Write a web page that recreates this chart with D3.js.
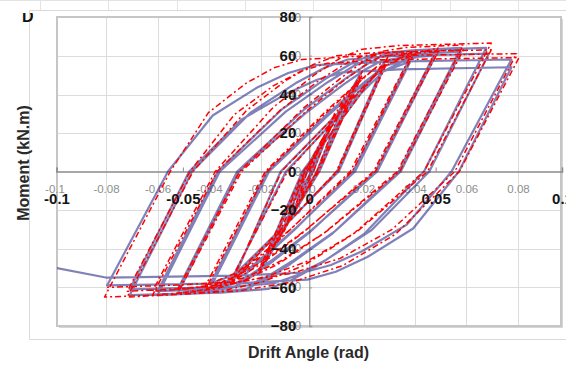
<!DOCTYPE html>
<html>
<head>
<meta charset="utf-8">
<script src="https://cdn.jsdelivr.net/npm/d3@7"></script>
<style>
  html, body { margin: 0; padding: 0; background: #fff; overflow: hidden; }
  svg { display: block; }
</style>
</head>
<body>
<svg id="chart" width="566" height="365"></svg>
<script>
// ---- Axis ticks ----
const xTicksMajor = [-0.1, -0.05, 0, 0.05, 0.1];
const xTicksMinor = [-0.1, -0.08, -0.06, -0.04, -0.02, 0, 0.02, 0.04, 0.06, 0.08];
const xGridTicks = [-0.08, -0.06, -0.04, -0.02, 0.02, 0.04, 0.06, 0.08];
const yTicks = [-80, -60, -40, -20, 0, 20, 40, 60, 80];

// ---- Test specimen (solid blue): loading history, [drift angle, moment] ----
const blueElastic = [[0,0],[0.005,15],[0.0008,0],[-0.005,-14],[-0.0008,0],[0.010,28],[0.0015,0],[-0.010,-29],
  [-0.0015,0],[0.015,39],[0.003,0],[-0.015,-39]];
const blueDrift2 = [[-0.002,0],[0.020,50],[0.0033,0],[-0.019,-51],[-0.002,0],[0.020,48],[0.004,0],[-0.019,-49]];
const blueDrift3 = [[-0.0027,0],[0.030,57],[0.011,0],[-0.030,-56],[-0.0113,0],[0.030,55],[0.0117,0],[-0.030,-54]];
const blueDrift4 = [[-0.0092,0],[0.0122,29.5],[0.0234,44.3],[0.0294,51.9],[0.040,59],
  [0.0173,0],[-0.0057,-30],[-0.0182,-45],[-0.0249,-52.8],[-0.039,-60],
  [-0.0159,0],[0.0070,28.5],[0.0194,42.8],[0.0261,50.2],[0.040,57],
  [0.0181,0],[-0.0051,-29],[-0.0176,-43.5],[-0.0245,-51],[-0.039,-58]];
const blueDrift5 = [[-0.0167,0],[0.0082,31],[0.0221,46.5],[0.0299,54.6],[0.050,62],
  [0.0262,0],[0.0001,-31.5],[-0.0152,-47.3],[-0.0240,-55.4],[-0.0298,-59.9],[-0.0378,-61.7],[-0.052,-63],
  [-0.0278,0],[-0.0017,30],[0.0135,45],[0.0222,52.8],[0.0281,57],[0.0359,58.8],[0.050,60],
  [0.0269,0],[0.0008,-30.5],[-0.0146,-45.8],[-0.0234,-53.7],[-0.0293,-58],[-0.0374,-59.8],[-0.052,-61]];
const blueDrift6 = [[-0.0285,0],[-0.0021,32],[0.0142,48],[0.0237,56.3],[0.0304,60.8],[0.0408,62.7],[0.060,64],
  [0.0354,0],[0.0093,-32],[-0.0076,-48],[-0.0176,-56.3],[-0.0249,-60.8],[-0.0371,-62.7],[-0.060,-64],
  [-0.0354,0],[-0.0093,31],[0.0076,46.5],[0.0176,54.6],[0.0249,58.9],[0.0371,60.8],[0.060,62],
  [0.0362,0],[0.0101,-31],[-0.0068,-46.5],[-0.0169,-54.6],[-0.0242,-58.9],[-0.0366,-60.8],[-0.060,-62]];
const blueDrift7 = [[-0.0362,0],[-0.0110,32],[0.0064,48],[0.0172,56.3],[0.0254,60.8],[0.0407,62.7],[0.070,64],
  [0.0454,0],[0.0220,-32],[0.0042,-48],[-0.0072,-56.3],[-0.0163,-60.8],[-0.0348,-62.7],[-0.071,-64],
  [-0.0464,0],[-0.0232,30.5],[-0.0053,45.8],[0.0061,53.7],[0.0152,58],[0.034,59.8],[0.071,61],
  [0.0475,0],[0.0245,-30.5],[0.0066,-45.8],[-0.0049,-53.7],[-0.0141,-58],[-0.0333,-59.8],[-0.071,-61]];
const blueDrift8 = [[-0.0475,0],[-0.0267,27],[-0.0087,40.5],[0.0031,47.5],[0.0132,51.3],[0.0356,52.9],[0.080,54],
  [0.0592,0],[0.0411,-29.5],[0.0230,-44.3],[0.0105,-51.9],[-0.0007,-56],[-0.0271,-57.8],[-0.080,-59],
  [-0.0559,0],[-0.0382,29],[-0.0206,43.5],[-0.0083,51],[0.0025,55.1],[0.0284,56.8],[0.080,58],
  [0.0563,0],[0.0386,-27.5],[0.0209,-41.3],[0.0086,-48.4],[-0.0023,-52.3],[-0.0282,-53.9],[-0.080,-55],
  [-0.100,-50]];

// ---- Analysis (red dash-dot): loading history, [drift angle, moment] ----
const redElastic = [[0,0],[0.005,16],[0.0008,0],[-0.005,-16],[-0.0008,0],[0.010,30],[0.0017,0],[-0.010,-31],
  [-0.0017,0],[0.015,41],[0.003,0],[-0.015,-41]];
const redDrift2 = [[-0.0009,0],[0.021,52],[0.0031,0],[-0.020,-53],[-0.0017,0],[0.021,50],[0.0038,0],[-0.020,-51]];
const redDrift3 = [[-0.0024,0],[0.031,59],[0.0107,0],[-0.031,-58],[-0.011,0],[0.031,57],[0.0113,0],[-0.031,-56]];
const redDrift4 = [[-0.0086,0],[0.0127,31],[0.0238,46.5],[0.0298,54.6],[0.041,62],
  [0.0162,0],[-0.0078,-30.5],[-0.0206,-45.8],[-0.0282,-53.7],[-0.041,-61],
  [-0.0166,0],[0.0064,30],[0.0187,45],[0.0254,52.8],[0.041,60],
  [0.017,0],[-0.0071,-29.5],[-0.0201,-44.3],[-0.0278,-51.9],[-0.041,-59]];
const redDrift5 = [[-0.0174,0],[0.0072,32],[0.0209,48],[0.0286,56.3],[0.051,64],
  [0.0254,0],[-0.0023,-31.5],[-0.0183,-47.3],[-0.0286,-55.4],[-0.0368,-59.9],[-0.0443,-61.7],[-0.052,-63],
  [-0.0268,0],[-0.0014,31],[0.0131,46.5],[0.0215,54.6],[0.0273,58.9],[0.0345,60.8],[0.051,62],
  [0.0262,0],[-0.0016,-30.5],[-0.0177,-45.8],[-0.0282,-53.7],[-0.0365,-58],[-0.0441,-59.8],[-0.052,-61]];
const redDrift6 = [[-0.0276,0],[-0.0023,32.8],[0.0132,49.1],[0.0222,57.6],[0.0289,62.2],[0.0383,64.2],[0.061,65.5],
  [0.0348,0],[0.0058,-32],[-0.0124,-48],[-0.0256,-56.3],[-0.0372,-60.8],[-0.0492,-62.7],[-0.062,-64],
  [-0.0364,0],[-0.0117,31.5],[0.004,47.3],[0.0138,55.4],[0.0212,59.9],[0.0327,61.7],[0.061,63],
  [0.0358,0],[0.0068,-31],[-0.0115,-46.5],[-0.0248,-54.6],[-0.0367,-58.9],[-0.0489,-60.8],[-0.062,-62]];
const redDrift7 = [[-0.0372,0],[-0.0142,33.3],[0.0019,49.9],[0.0120,58.5],[0.0205,63.2],[0.0351,65.2],[0.072,66.5],
  [0.0454,0],[0.0173,-32.5],[-0.0024,-48.8],[-0.0186,-57.2],[-0.0344,-61.8],[-0.0524,-63.7],[-0.072,-65],
  [-0.046,0],[-0.0249,31.5],[-0.009,47.3],[0.0016,55.4],[0.0108,59.9],[0.0279,61.7],[0.072,63],
  [0.0468,0],[0.019,-31],[-0.0008,-46.5],[-0.0174,-54.6],[-0.0335,-58.9],[-0.0519,-60.8],[-0.072,-62]];
const redDrift8 = [[-0.0472,0],[-0.0296,29.5],[-0.0143,44.3],[-0.0033,51.9],[0.0070,56],[0.0279,57.8],[0.083,59],
  [0.0594,0],[0.0341,-32.5],[0.0131,-48.8],[-0.0066,-57.2],[-0.0276,-61.8],[-0.0529,-63.7],[-0.081,-65],
  [-0.055,0],[-0.0399,30.5],[-0.0249,45.8],[-0.0139,53.7],[-0.0029,58],[0.0204,59.8],[0.082,61],
  [0.0576,0],[0.0328,-30],[0.0122,-45],[-0.0071,-52.8],[-0.0277,-57],[-0.0525,-58.8],[-0.080,-60]];

const blueHistory = [].concat(blueElastic, blueDrift2, blueDrift3, blueDrift4, blueDrift5, blueDrift6, blueDrift7, blueDrift8);
const redHistory = [].concat(redElastic, redDrift2, redDrift3, redDrift4, redDrift5, redDrift6, redDrift7, redDrift8);

// ---- Layout ----
const svg = d3.select('#chart');
const box = { left: 57, top: 17, right: 561, bottom: 326 };
const FONT = '"Liberation Sans", Arial, Helvetica, sans-serif';

// main plot scales (bold labels, data)
const x = d3.scaleLinear().domain([-0.1, 0.1]).range([56.5, 562]);
const y = d3.scaleLinear().domain([-80, 80]).range([326, 17]);
// secondary grid scales (grey labels, gridlines)
const xg = d3.scaleLinear().domain([-0.1, 0.1]).range([54.5, 569.5]);
const yg = d3.scaleLinear().domain([-80, 80]).range([325.5, 17.5]);

// spreadsheet cell lines behind the chart
const sheet = svg.append('g').attr('stroke', '#e3e3e3').attr('stroke-width', 1);
sheet.append('line').attr('x1', 0).attr('x2', 566).attr('y1', 0.5).attr('y2', 0.5);
[40, 108, 177, 245, 313, 381, 450, 518].forEach(cx => {
  sheet.append('line').attr('x1', cx + 0.5).attr('x2', cx + 0.5).attr('y1', 0).attr('y2', 10);
});

// outer chart frame
const frame = svg.append('g').attr('stroke', '#dadada').attr('stroke-width', 1).attr('fill', 'none');
frame.append('path').attr('d', 'M29.5,339.5 L29.5,10.5 L566,10.5');
frame.append('path').attr('d', 'M29.5,339.5 L566,339.5');

// clipped leftover letter at top-left
svg.append('clipPath').attr('id', 'clipD').append('rect')
  .attr('x', 15).attr('y', 13).attr('width', 30).attr('height', 12);
svg.append('text').attr('x', 22).attr('y', 21.5).attr('clip-path', 'url(#clipD)')
  .attr('font-family', FONT).attr('font-weight', 'bold').attr('font-size', 16).attr('fill', '#111')
  .text('D');

// plot area
svg.append('rect')
  .attr('x', box.left).attr('y', box.top)
  .attr('width', box.right - box.left).attr('height', box.bottom - box.top)
  .attr('fill', '#fff');

// gridlines
const grid = svg.append('g').attr('stroke', '#dcdcdc').attr('stroke-width', 1);
grid.selectAll('line.v').data(xGridTicks).join('line')
  .attr('x1', d => Math.round(xg(d)) + 0.5).attr('x2', d => Math.round(xg(d)) + 0.5)
  .attr('y1', box.top).attr('y2', box.bottom);
grid.selectAll('line.h').data(yTicks.filter(d => d !== 0 && Math.abs(d) !== 80)).join('line')
  .attr('y1', d => Math.round(yg(d)) + 0.5).attr('y2', d => Math.round(yg(d)) + 0.5)
  .attr('x1', box.left).attr('x2', box.right);

// plot border
svg.append('rect')
  .attr('x', box.left).attr('y', box.top)
  .attr('width', box.right - box.left).attr('height', box.bottom - box.top)
  .attr('fill', 'none').attr('stroke', '#c6c6c6').attr('stroke-width', 2);
svg.append('path').attr('d', `M${box.right + 1.5},${box.top + 2} L${box.right + 1.5},${box.bottom + 1.5} L${box.left + 2},${box.bottom + 1.5}`)
  .attr('fill', 'none').attr('stroke', '#d6d6d6').attr('stroke-width', 1);

// axis lines through the origin
const xAxis = svg.append('g').attr('transform', `translate(0,${y(0)})`)
  .call(d3.axisTop(x).tickValues(xTicksMajor).tickSize(4).tickFormat(''));
xAxis.select('.domain').attr('stroke', '#8a8a8a').attr('stroke-width', 1.5);
xAxis.selectAll('.tick line').attr('stroke', '#8a8a8a');

const yAxis = svg.append('g').attr('transform', `translate(${x(0)},0)`)
  .call(d3.axisRight(y).tickValues(yTicks).tickSize(3).tickFormat(''));
yAxis.select('.domain').attr('stroke', '#9a9a9a').attr('stroke-width', 1.3);
yAxis.selectAll('.tick line').attr('stroke', '#9a9a9a');

// grey tick labels
const gx = svg.append('g').attr('transform', `translate(0,${yg(0)})`)
  .call(d3.axisBottom(xg).tickValues(xTicksMinor).tickSize(0).tickPadding(13)
    .tickFormat(d => d === 0 ? '0' : String(+d.toFixed(2))));
gx.select('.domain').remove();
gx.selectAll('text').attr('font-family', FONT).attr('font-size', 11.5).attr('fill', '#8e8e8e');

const gy = svg.append('g').attr('transform', `translate(${x(0)},0)`)
  .call(d3.axisLeft(yg).tickValues(yTicks).tickSize(0).tickPadding(8));
gy.select('.domain').remove();
gy.selectAll('text').attr('font-family', FONT).attr('font-size', 12).attr('fill', '#8e8e8e');

// data
svg.append('clipPath').attr('id', 'plotClip').append('rect')
  .attr('x', box.left).attr('y', box.top)
  .attr('width', box.right - box.left).attr('height', box.bottom - box.top);

const line = d3.line().x(d => x(d[0])).y(d => y(d[1]));
const plot = svg.append('g').attr('clip-path', 'url(#plotClip)');

plot.append('path').datum(blueHistory)
  .attr('d', line).attr('fill', 'none')
  .attr('stroke', '#262686').attr('stroke-opacity', 0.58)
  .attr('stroke-width', 2.2).attr('stroke-linejoin', 'round');

plot.append('path').datum(redHistory)
  .attr('d', line).attr('fill', 'none')
  .attr('stroke', '#ff0000').attr('stroke-width', 1.5)
  .attr('stroke-dasharray', '6,3,2,3').attr('stroke-linejoin', 'round');

// bold tick labels
const bx = svg.append('g').attr('transform', `translate(0,${y(0)})`)
  .call(d3.axisBottom(x).tickValues(xTicksMajor).tickSize(0).tickPadding(22)
    .tickFormat(d => d === 0 ? '0' : String(+d.toFixed(2))));
bx.select('.domain').remove();
bx.selectAll('text').attr('font-family', FONT).attr('font-size', 15).attr('font-weight', 'bold').attr('fill', '#151515');

const by = svg.append('g').attr('transform', `translate(${x(0)},0)`)
  .call(d3.axisLeft(y).tickValues(yTicks).tickSize(0).tickPadding(13));
by.select('.domain').remove();
by.selectAll('text').attr('font-family', FONT).attr('font-size', 15).attr('font-weight', 'bold').attr('fill', '#151515');

// axis titles
svg.append('text')
  .attr('transform', 'translate(29,163) rotate(-90)')
  .attr('text-anchor', 'middle')
  .attr('font-family', FONT).attr('font-size', 16).attr('font-weight', 'bold').attr('fill', '#2a2a2a')
  .text('Moment (kN.m)');

svg.append('text')
  .attr('x', 308.5).attr('y', 358)
  .attr('text-anchor', 'middle')
  .attr('font-family', FONT).attr('font-size', 16).attr('font-weight', 'bold').attr('fill', '#2a2a2a')
  .text('Drift Angle (rad)');
</script>
</body>
</html>
